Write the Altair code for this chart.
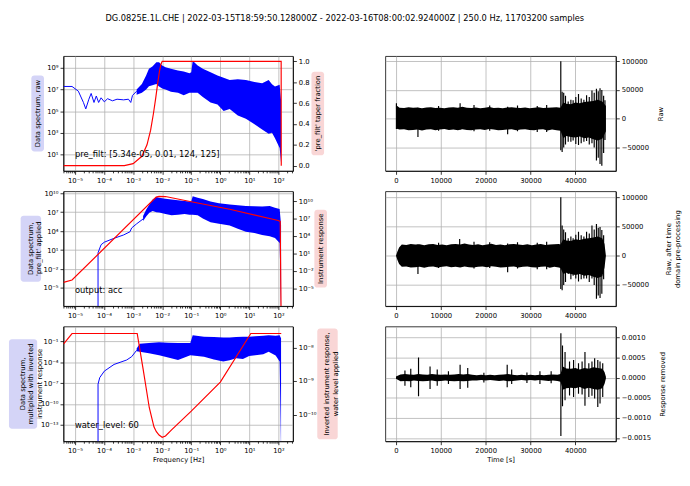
import altair as alt
import pandas as pd

FONT = "DejaVu Sans"
TITLE = ("DG.0825E.1L.CHE | 2022-03-15T18:59:50.128000Z - 2022-03-16T08:00:02.924000Z"
         " | 250.0 Hz, 11703200 samples")

# ---------------- layout ----------------
LW, RW, H = 236, 237, 118
VSP, HSP = 21, 95

# ---------------- frequency axis ----------------
FREQ_DOMAIN = [4e-6, 316]
FREQ_TICKS = [1e-5, 1e-4, 1e-3, 1e-2, 1e-1, 1e0, 1e1, 1e2]
FREQ_MINOR = [m * 10.0 ** k for k in range(-6, 3) for m in range(2, 10)
              if FREQ_DOMAIN[0] <= m * 10.0 ** k <= FREQ_DOMAIN[1]]

# Panel 1: raw data spectrum (blue) + pre_filt taper fraction (red)
raw_line_f = [4e-6, 7.9e-6, 1.3e-5, 1.95e-5, 2.35e-5, 3.0e-5, 3.6e-5, 4.5e-5, 5.4e-5, 6.5e-5,
              7.9e-5, 1.02e-4, 1.32e-4, 1.95e-4, 2.8e-4, 4.7e-4, 6.9e-4, 8.3e-4, 9.5e-4, 1.32e-3]
raw_line_v = [1.9e7, 1.9e7, 7e6, 6.3e5, 1.6e5, 1.26e6, 4.3e6, 6.3e5, 2.5e6, 6.3e5,
              1.7e6, 7.2e5, 1.4e6, 9e5, 1.26e6, 1.1e6, 1.26e6, 6.3e5, 2.8e6, 6.9e6]
raw_band_f = [1.32e-3, 2.0e-3, 2.8e-3, 3.5e-3, 4.6e-3, 6.3e-3, 7.8e-3, 1.0e-2, 1.3e-2, 2.0e-2,
              3.5e-2, 5.5e-2, 8.7e-2, 0.1, 0.112, 0.166, 0.25, 0.46, 0.8, 1.3,
              2.1, 4.0, 7.6, 15, 27.5, 46, 60, 76, 110, 123]
raw_band_hi = [1e7, 3.2e7, 2e8, 8e8, 1.3e9, 3.2e9, 3.2e9, 1.6e9, 1.15e9, 8e8,
               5.8e8, 4.5e8, 3.2e8, 4e8, 4.5e9, 1.6e9, 8e8, 4e8, 2e8, 1.2e8,
               7.4e7, 9e7, 7.4e7, 5e7, 3.8e7, 7.4e7, 3e7, 1.9e7, 2.7e7, 1e6]
raw_band_lo = [3.2e6, 5e6, 1e7, 2e7, 2.5e7, 3.2e7, 1.9e7, 1.2e7, 1e7, 6e6,
               5e6, 3e6, 5e6, 5e6, 5e6, 5e6, 2e6, 6.3e5, 4e5, 1e5,
               1.6e5, 4e4, 2e4, 6e3, 2e3, 8e2, 1e3, 3.2e2, 40, 1.6]
taper_f = [4e-6, 5e-4, 1e-3, 2e-3, 3e-3, 4e-3, 5e-3, 6e-3, 7e-3, 8e-3, 9e-3, 1e-2, 124, 125]
taper_v = [0, 0, 0.02, 0.09, 0.2, 0.34, 0.5, 0.65, 0.79, 0.9, 0.97, 1.0, 1.0, 0.0]

# Panel 2: spectrum with pre_filt applied (blue) + instrument response (red)
pf_line_f = [6.2e-5, 6.2e-5, 7.9e-5, 1.02e-4, 2.2e-4, 4.7e-4, 7.8e-4, 8.9e-4, 1.32e-3, 2.2e-3]
pf_line_v = [1e-9, 3.8, 72, 180, 740, 2.5e3, 8e3, 3.2e4, 1.45e5, 8.5e5]
pf_band_f = [2.2e-3, 2.8e-3, 3.6e-3, 4.7e-3, 6.3e-3, 7.9e-3, 1.3e-2, 2.1e-2, 3.5e-2, 5.9e-2,
             8.7e-2, 0.1, 0.112, 0.166, 0.25, 0.46, 0.9, 2.1, 4.0, 7.6,
             15, 27.5, 50, 76, 110, 123]
pf_band_hi = [2.5e6, 2.5e7, 1.6e8, 1e9, 2.5e9, 2e9, 1.3e9, 1e9, 8e8, 6e8,
              5e8, 5e8, 3.2e9, 2e9, 1.2e9, 5e8, 2.5e8, 1.6e8, 1.3e8, 1e8,
              9e7, 8e7, 1e8, 5e7, 3.2e7, 1e5]
pf_band_lo = [4e5, 2e6, 8e6, 1.6e7, 1e7, 9e6, 5e6, 3.2e6, 4e6, 5e6,
              4e6, 4e6, 4e6, 3.2e6, 1e6, 2.5e5, 1.5e5, 8e4, 2.5e4, 8e3,
              5e3, 2.5e3, 1.5e3, 8e2, 1.3e2, 1e-9]
resp_f = [4e-6, 7.9e-6, 6.2e-3, 7.8e-3, 1.3e-2, 0.1, 2.1, 98, 115, 123]
resp_v = [1e-4, 2.5e-4, 5e10, 6.8e10, 6.3e10, 8e9, 4e8, 4.7e6, 3.2e6, 1e-9]

# Panel 3: spectrum multiplied with inverted response (blue) + inverted response (red)
wl_line_f = [6.2e-5, 6.2e-5, 7.1e-5, 1.02e-4, 2.2e-4, 6e-4, 8.9e-4, 1.32e-3]
wl_line_v = [1e-17, 7.2e-8, 6.3e-7, 5.4e-6, 5e-5, 2.2e-4, 6.6e-4, 5.5e-3]
wl_band_f = [1.32e-3, 1.7e-3, 3.5e-3, 7.8e-3, 1.6e-2, 3.5e-2, 9.3e-2, 0.112, 0.275, 0.6,
             1.26, 2.1, 3.5, 6.0, 9.8, 16, 30, 46, 80, 110, 123]
wl_band_hi = [1e-2, 4.8e-2, 6e-2, 8.3e-2, 7e-2, 6.3e-2, 6.3e-2, 0.85, 0.5, 0.45,
              0.4, 0.4, 0.45, 0.5, 0.5, 0.6, 0.7, 0.85, 0.7, 0.85, 0.3]
wl_band_lo = [4e-3, 3.3e-3, 2e-3, 1.1e-3, 5e-4, 2.2e-4, 1.1e-3, 1e-3, 6.3e-4, 2.5e-4,
              1.3e-4, 2e-4, 4e-4, 3e-4, 8e-4, 1.1e-3, 1.5e-3, 3.3e-3, 1e-3, 1.3e-4, 1e-17]
inv_f = [4e-6, 7.9e-6, 1.38e-3, 2.2e-3, 3.6e-3, 5.2e-3, 6.3e-3, 7.8e-3, 1e-2, 1.3e-2,
         2.1e-2, 0.1, 1.0, 11.2, 125]
inv_v = [1.26e-8, 2.6e-8, 2.6e-8, 2.3e-9, 1.6e-10, 4.3e-11, 3.1e-11, 2.45e-11, 2.1e-11, 2.3e-11,
         3.5e-11, 1.26e-10, 9.3e-10, 2.6e-8, 2.6e-8]

# ---------------- time axis ----------------
TIME_DOMAIN = [-2365, 49030]
TIME_TICKS = [0, 10000, 20000, 30000, 40000]

# Panel 4: raw trace (envelope + spikes)
raw_t = [0, 800, 1800, 2800, 3800, 4800, 5800, 6800, 7800, 8800,
         9800, 10800, 11800, 12800, 13800, 14800, 15800, 16800, 17800, 18800,
         19800, 20800, 21800, 22800, 23800, 24800, 25800, 26800, 27800, 28800,
         29800, 30800, 31800, 32800, 33800, 34800, 35800, 36700, 37300, 38000,
         39000, 40000, 41000, 42000, 43000, 44000, 45000, 46000, 46812]
raw_hi = [24000, 19000, 18500, 20000, 19000, 19500, 18000, 19500, 20000, 18500,
          19000, 18000, 19500, 20000, 19000, 21000, 19000, 18500, 19500, 18000,
          19000, 20500, 18500, 19000, 18000, 19500, 20000, 19000, 18500, 19500,
          18000, 19000, 20000, 18500, 19000, 19500, 20000, 19000, 28000, 26000,
          25000, 28000, 27000, 29000, 30000, 31000, 33000, 30000, 22000]
raw_lo = [-17000, -19000, -18500, -20000, -19500, -19000, -20500, -19000, -18500, -20000,
          -19000, -18000, -19500, -19000, -20000, -18500, -19500, -20000, -19000, -18500,
          -19500, -18000, -19000, -20000, -19500, -19000, -18500, -20000, -19000, -18500,
          -19500, -20000, -19000, -18500, -20500, -19000, -20000, -21000, -34000, -30000,
          -32000, -33000, -31000, -34000, -33000, -36000, -38000, -35000, -22000]
raw_spk_t = [100, 4900, 9500, 14300, 17400, 20900, 24900, 27100, 31500, 33600,
             36750, 37050, 37400, 37800, 38400, 39000, 39500, 40100, 40700, 41300,
             41900, 42500, 43100, 43700, 44200, 44700, 45100, 45500, 45900, 46300, 46600]
raw_spk_hi = [27000, 19000, 22000, 27000, 24000, 23000, 21000, 23000, 22000, 24000,
              100000, 47000, 45000, 40000, 30000, 33000, 32000, 38000, 43000, 35000,
              33000, 41000, 38000, 49000, 45000, 52000, 48000, 53000, 50000, 40000, 32000]
raw_spk_lo = [-18000, -32000, -21000, -19000, -22000, -21000, -27000, -22000, -23000, -23000,
              -55000, -58000, -50000, -45000, -40000, -40000, -38000, -44000, -46000, -43000,
              -40000, -39000, -45000, -43000, -50000, -73000, -68000, -79000, -82000, -60000, -37000]

# Panel 5: after time-domain pre-processing
pp_t = [0, 300, 700, 1300, 2300, 3300, 4300, 5300, 6300, 7300,
        8300, 9300, 10300, 11300, 12300, 13300, 14300, 15300, 16300, 17300,
        18300, 19300, 20300, 21300, 22300, 23300, 24300, 25300, 26300, 27300,
        28300, 29300, 30300, 31300, 32300, 33300, 34300, 35300, 36300, 36700,
        37300, 38000, 39000, 40000, 41000, 42000, 43000, 44000, 45000, 46000,
        46500, 46812]
pp_hi = [0, 7000, 14000, 19000, 18500, 20000, 19000, 19500, 18000, 19500,
         20000, 18500, 19000, 18000, 19500, 20000, 19000, 21000, 19000, 18500,
         19500, 18000, 19000, 20500, 18500, 19000, 18000, 19500, 20000, 19000,
         18500, 19500, 18000, 19000, 20000, 18500, 19000, 19500, 20000, 19000,
         28000, 26000, 25000, 28000, 27000, 29000, 30000, 31000, 33000, 30000,
         20000, 0]
pp_lo = [0, -7000, -14000, -19000, -18500, -20000, -19500, -19000, -20500, -19000,
         -18500, -20000, -19000, -18000, -19500, -19000, -20000, -18500, -19500, -20000,
         -19000, -18500, -19500, -18000, -19000, -20000, -19500, -19000, -18500, -20000,
         -19000, -18500, -19500, -20000, -19000, -18500, -20500, -19000, -20000, -21000,
         -31000, -29000, -31000, -33000, -31000, -34000, -33000, -36000, -38000, -35000,
         -20000, 0]
pp_spk_t = [4900, 9500, 14200, 17400, 20900, 24900, 27100, 31500, 33600,
            36750, 37050, 37400, 37800, 38400, 39000, 39500, 40100, 40700, 41300,
            41900, 42500, 43100, 43700, 44200, 44700, 45100, 45500, 45900, 46300]
pp_spk_hi = [19000, 22000, 28600, 24000, 23000, 21000, 23000, 22000, 24000,
             100000, 51700, 45000, 40000, 30000, 33000, 30000, 36000, 41000, 35000,
             33000, 41000, 38000, 51700, 45000, 54400, 48000, 49000, 44000, 35000]
pp_spk_lo = [-31000, -21000, -19000, -22000, -21000, -28000, -22000, -23000, -23000,
             -57000, -59000, -50000, -45000, -31000, -40000, -34000, -39000, -44000, -40000,
             -39000, -39000, -45000, -39000, -50000, -73600, -68000, -72000, -65000, -40000]

# Panel 6: response removed
rr_t = [0, 1000, 2000, 3000, 4000, 5000, 6000, 7000, 8000, 9000,
        10000, 11000, 12000, 13000, 14000, 15000, 16000, 17000, 18000, 19000,
        20000, 21000, 22000, 23000, 24000, 25000, 26000, 27000, 28000, 29000,
        30000, 31000, 32000, 33000, 34000, 35000, 36000, 36700, 37200, 38000,
        39000, 40000, 41000, 42000, 43000, 44000, 45000, 46000, 46500, 46812]
rr_hi = [0.00003, 0.00008, 0.00009, 0.00008, 0.00007, 0.00009, 0.00008, 0.00007, 0.00009, 0.00008,
         0.00007, 0.00008, 0.00007, 0.00008, 0.00009, 0.00008, 0.00009, 0.00007, 0.00006, 0.00007,
         0.00006, 0.00007, 0.00006, 0.00007, 0.00008, 0.00009, 0.00007, 0.00006, 0.00007, 0.00006,
         0.00007, 0.00006, 0.00007, 0.00006, 0.00007, 0.00008, 0.00007, 0.00009, 0.00028, 0.00023,
         0.00022, 0.00024, 0.0002, 0.00024, 0.00022, 0.00026, 0.00024, 0.00022, 0.00014, 0.00002]
rr_lo = [-0.00003, -0.00009, -0.00008, -0.00009, -0.00007, -0.00008, -0.00009, -0.00008, -0.00007, -0.00009,
         -0.00008, -0.00007, -0.00008, -0.00009, -0.00008, -0.00009, -0.00008, -0.00007, -0.00007, -0.00006,
         -0.00007, -0.00006, -0.00007, -0.00008, -0.00007, -0.00009, -0.00008, -0.00007, -0.00006, -0.00007,
         -0.00006, -0.00007, -0.00006, -0.00007, -0.00008, -0.00007, -0.00008, -0.0001, -0.0003, -0.00026,
         -0.00025, -0.00026, -0.00023, -0.00028, -0.00025, -0.00028, -0.0003, -0.00026, -0.00016, -0.00002]
rr_spk_t = [2000, 3300, 5030, 7600, 9200, 11700, 14300, 16000, 19600, 24800,
            25800, 29200, 32100, 34600, 36770, 37130, 37700, 38700, 39600, 40700,
            41500, 42140, 43000, 43700, 44300, 45000, 45500, 46100]
rr_spk_hi = [0.00018, 0.00022, 0.0005, 0.00028, 0.0002, 0.00016, 0.00032, 0.00024, 0.00012, 0.00032,
             0.0002, 0.00013, 0.00016, 0.00016, 0.0011, 0.0008, 0.00064, 0.0004, 0.00044, 0.00036,
             0.0004, 0.00064, 0.00036, 0.0004, 0.00048, 0.00044, 0.0004, 0.00036]
rr_spk_lo = [-0.0002, -0.00024, -0.00046, -0.00028, -0.0002, -0.00016, -0.00028, -0.00025, -0.00012, -0.00024,
             -0.00016, -0.00013, -0.00016, -0.00014, -0.00145, -0.00071, -0.00056, -0.00044, -0.00048, -0.0004,
             -0.00042, -0.0007, -0.00048, -0.00045, -0.00052, -0.00073, -0.00064, -0.00048]

BLUE, RED = "#0000ff", "#ff0000"
LAVENDER, PINK = "#d4d4f7", "#f9d6d6"

# superscript exponent labels for log axes: 10⁻⁵ ...
_e = "('' + round(log(datum.value) / LN10))"
for _d, _s in zip("-0123456789", "⁻⁰¹²³⁴⁵⁶⁷⁸⁹"):
    _e = "replace(%s, regexp('%s', 'g'), '%s')" % (_e, _d, _s)
SUP = "'10' + " + _e

ONE = pd.DataFrame({"k": [0]})
FSCALE = alt.Scale(type="log", domain=FREQ_DOMAIN, nice=False)


def box_text(lines, cx, cy, bw, bh, fill):
    rect = alt.Chart(ONE).mark_rect(fill=fill, cornerRadius=3).encode(
        x=alt.value(cx - bw / 2), x2=alt.value(cx + bw / 2),
        y=alt.value(cy - bh / 2), y2=alt.value(cy + bh / 2))
    txt = alt.Chart(ONE).mark_text(angle=270, font=FONT, fontSize=7, color="black",
                                   lineBreak="\n", lineHeight=8.5,
                                   align="center", baseline="middle").encode(
        x=alt.value(cx), y=alt.value(cy), text=alt.value("\n".join(lines)))
    return [rect, txt]


def note(text):
    txt = alt.Chart(ONE).mark_text(font=FONT, fontSize=8.6, color="black",
                                   align="left", baseline="bottom").encode(
        x=alt.value(0.05 * LW), y=alt.value(0.9 * H), text=alt.value(text))
    return [txt]


def left_panel(line, band, red, ldom, lticks, rscale, rticks, rfmt,
               xtitle, lav, pink, ntext):
    Xmain = alt.X("f:Q", scale=FSCALE,
                  axis=alt.Axis(orient="bottom", values=FREQ_TICKS, labelExpr=SUP, grid=True,
                                title=xtitle, titlePadding=2))
    Xnone = alt.X("f:Q", scale=FSCALE, axis=None)
    Xminor = alt.X("f:Q", scale=FSCALE,
                   axis=alt.Axis(orient="bottom", values=FREQ_MINOR, labels=False, grid=False,
                                 domain=False, tickSize=2, title=None))
    lscale = alt.Scale(type="log", domain=ldom, nice=False)
    laxis = alt.Axis(orient="left", values=lticks, labelExpr=SUP, grid=True, title=None)
    if rfmt is None:
        raxis = alt.Axis(orient="right", values=rticks, labelExpr=SUP, grid=False, title=None)
    else:
        raxis = alt.Axis(orient="right", values=rticks, format=rfmt, grid=False, title=None)
    line_df = pd.DataFrame({"f": line[0], "v": line[1]})
    bl = alt.Chart(line_df).mark_line(color=BLUE, strokeWidth=1, clip=True).encode(
        x=Xmain, y=alt.Y("v:Q", scale=lscale, axis=laxis))
    bb = alt.Chart(pd.DataFrame({"f": band[0], "hi": band[1], "lo": band[2]})).mark_area(
        color=BLUE, clip=True).encode(
        x=Xmain, y=alt.Y("hi:Q", scale=lscale, axis=laxis), y2="lo:Q")
    rd = alt.Chart(pd.DataFrame({"f": red[0], "v": red[1]})).mark_line(
        color=RED, strokeWidth=1.2, clip=True).encode(
        x=Xnone, y=alt.Y("v:Q", scale=rscale, axis=raxis))
    minor = alt.Chart(line_df).mark_point(opacity=0, size=1).encode(x=Xminor)
    deco = box_text(*lav, fill=LAVENDER) + box_text(*pink, fill=PINK) + note(ntext)
    return alt.layer(alt.layer(bl, bb), rd, minor, *deco).resolve_scale(
        y="independent").resolve_axis(x="independent").properties(width=LW, height=H)


def right_panel(base, spk, ydom, yticks, yfmt, ytitle, xtitle):
    X = alt.X("t:Q", scale=alt.Scale(domain=TIME_DOMAIN, nice=False, zero=False),
              axis=alt.Axis(values=TIME_TICKS, format="d", grid=True,
                            title=xtitle, titlePadding=2))
    ys = alt.Scale(domain=ydom, nice=False, zero=False)
    ya = alt.Axis(orient="right", values=yticks, format=yfmt, grid=True, title=ytitle,
                  titleAngle=270, titleBaseline="top", titlePadding=8)
    a = alt.Chart(pd.DataFrame({"t": base[0], "hi": base[1], "lo": base[2]})).mark_area(
        color="black", clip=True).encode(x=X, y=alt.Y("hi:Q", scale=ys, axis=ya), y2="lo:Q")
    r = alt.Chart(pd.DataFrame({"t": spk[0], "hi": spk[1], "lo": spk[2]})).mark_rule(
        color="black", strokeWidth=1.2, clip=True).encode(
        x=X, y=alt.Y("hi:Q", scale=ys, axis=ya), y2="lo:Q")
    return alt.layer(a, r).properties(width=RW, height=H)


l1 = left_panel((raw_line_f, raw_line_v), (raw_band_f, raw_band_hi, raw_band_lo),
                (taper_f, taper_v), [0.3, 1.2e10], [1e1, 1e3, 1e5, 1e7, 1e9],
                alt.Scale(domain=[-0.05, 1.05], nice=False, zero=False),
                [0, 0.2, 0.4, 0.6, 0.8, 1.0], ".1f", None,
                (["Data spectrum, raw"], -26.5, H / 2, 13, 78),
                (["'pre_filt' taper fraction"], LW + 25.5, H / 2, 13, 86),
                "pre_filt: [5.34e-05, 0.01, 124, 125]")
l2 = left_panel((pf_line_f, pf_line_v), (pf_band_f, pf_band_hi, pf_band_lo),
                (resp_f, resp_v), [1.4e-8, 2e10], [1e-5, 1e-2, 1e1, 1e4, 1e7, 1e10],
                alt.Scale(type="log", domain=[8e-9, 5e11], nice=False),
                [1e-5, 1e-2, 1e1, 1e4, 1e7, 1e10], None, None,
                (["Data spectrum,", "'pre_filt' applied"], -33.5, H / 2, 21, 68),
                (["Instrument response"], LW + 28.5, H / 2, 13, 80),
                "output: acc")
l3 = left_panel((wl_line_f, wl_line_v), (wl_band_f, wl_band_hi, wl_band_lo),
                (inv_f, inv_v), [4e-16, 15], [1e-13, 1e-10, 1e-7, 1e-4, 1e-1],
                alt.Scale(type="log", domain=[1.6e-11, 4.2e-8], nice=False),
                [1e-10, 1e-9, 1e-8], None, "Frequency [Hz]",
                (["Data spectrum,", "multiplied with inverted", "instrument response"],
                 -41.5, H / 2, 29, 92),
                (["Inverted instrument response,", "water level applied"],
                 LW + 35.5, H / 2, 21, 114),
                "water_level: 60")

r1 = right_panel((raw_t, raw_hi, raw_lo), (raw_spk_t, raw_spk_hi, raw_spk_lo),
                 [-91000, 109000], [-50000, 0, 50000, 100000], "d", "Raw", None)
r2 = right_panel((pp_t, pp_hi, pp_lo), (pp_spk_t, pp_spk_hi, pp_spk_lo),
                 [-86000, 110000], [-50000, 0, 50000, 100000], "d",
                 ["Raw, after time", "domain pre-processing"], None)
r3 = right_panel((rr_t, rr_hi, rr_lo), (rr_spk_t, rr_spk_hi, rr_spk_lo),
                 [-0.00158, 0.00127], [-0.0015, -0.001, -0.0005, 0, 0.0005, 0.001], ".4f",
                 "Response removed", "Time [s]")

chart = alt.concat(l1, r1, l2, r2, l3, r3, columns=2,
                   spacing={"row": VSP, "column": HSP}, bounds="flush").properties(
    title=alt.TitleParams(TITLE, font=FONT, fontSize=8.5, fontWeight="normal",
                          anchor="middle", offset=34, color="black"),
    padding=0, background="white",
).configure_axis(
    labelFont=FONT, labelFontSize=7, labelColor="black",
    titleFont=FONT, titleFontSize=7, titleFontWeight="normal", titleColor="black",
    tickColor="black", tickSize=3.5, tickWidth=0.8,
    domainColor="black", domainWidth=0.8,
    gridColor="#b0b0b0", gridWidth=0.8,
    labelPadding=2, labelOverlap=False, labelFlush=False,
).configure_view(stroke="black", strokeWidth=0.8)

chart.save("out.html", embed_options={"renderer": "svg", "actions": False})
